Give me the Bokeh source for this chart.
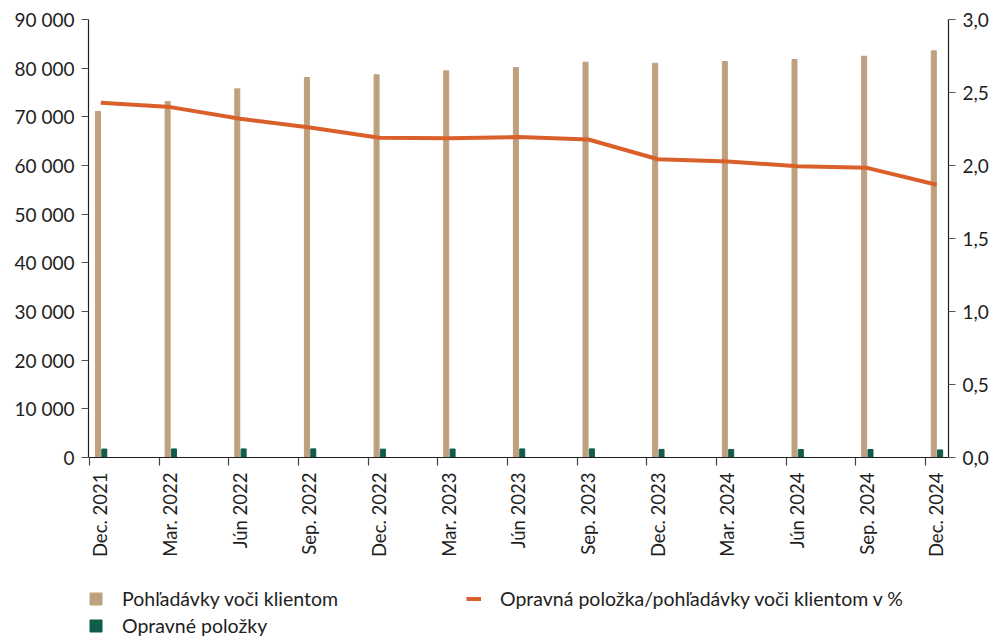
import math
from bokeh.plotting import figure
from bokeh.models import (ColumnDataSource, Range1d, LinearAxis, FixedTicker,
                          CustomJSTickFormatter, Legend, LegendItem)
from bokeh.transform import dodge
from bokeh.embed import file_html
from bokeh.resources import INLINE

# Quarter-end labels
quarters = ["Dec. 2021", "Mar. 2022", "Jún 2022", "Sep. 2022", "Dec. 2022",
            "Mar. 2023", "Jún 2023", "Sep. 2023", "Dec. 2023", "Mar. 2024",
            "Jún 2024", "Sep. 2024", "Dec. 2024"]

# Claims on clients (left axis)
pohladavky = [71100, 73150, 75750, 78080, 78640, 79450, 80130, 81230,
              81020, 81370, 81780, 82450, 83560]
# Loan-loss provisions (left axis)
opravne = [1730, 1760, 1760, 1770, 1720, 1740, 1760, 1770,
           1660, 1650, 1630, 1640, 1560]
# Provisions / claims ratio in % (right axis)
pomer = [2.43, 2.40, 2.32, 2.26, 2.19, 2.187, 2.195, 2.178,
         2.043, 2.027, 1.995, 1.984, 1.868]

left_ticks = [0, 10000, 20000, 30000, 40000, 50000, 60000, 70000, 80000, 90000]
right_ticks = [0.0, 0.5, 1.0, 1.5, 2.0, 2.5, 3.0]

TAN = "#BFA07E"
GREEN = "#115C4A"
ORANGE = "#D9602A"
FONT = "Lato"
TXT = "#1E1E1E"

# The frame reaches the bottom of the canvas; the part below zero holds the
# rotated quarter labels and the legend.
FRAME_H = 618
ZERO_PX = 438          # pixels from zero to the top of the value axes
below = (FRAME_H - ZERO_PX) / ZERO_PX
y_max, pct_max = 90000, 3.0

src = ColumnDataSource(dict(i=list(range(len(quarters))), pohl=pohladavky,
                            opr=opravne, pct=pomer))

p = figure(output_backend="svg", toolbar_location=None,
           x_range=Range1d(-0.017, 12.33),
           y_range=Range1d(-below * y_max, y_max),
           frame_width=860, frame_height=FRAME_H,
           min_border_left=88, min_border_right=49, min_border_top=19,
           min_border_bottom=0, x_axis_location=None, y_axis_location=None)
p.outline_line_color = None
p.grid.visible = False
p.background_fill_color = "white"
p.border_fill_color = "white"
p.extra_y_ranges = {"pct": Range1d(-below * pct_max, pct_max)}

bw = 0.072
r_pohl = p.vbar(x=dodge("i", 0.119, range=p.x_range), top="pohl", width=bw,
                bottom=0, color=TAN, source=src)
r_opr = p.vbar(x=dodge("i", 0.21, range=p.x_range), top="opr", width=bw,
               bottom=0, color=GREEN, source=src)
r_pct = p.line(x=dodge("i", 0.16, range=p.x_range), y="pct", line_width=4,
               line_color=ORANGE, y_range_name="pct", source=src)

# Left axis
yl = LinearAxis(ticker=FixedTicker(ticks=left_ticks), bounds=(0, y_max),
                major_label_overrides={v: f"{v:,}".replace(",", " ") for v in left_ticks})
# Right axis
yr = LinearAxis(y_range_name="pct", ticker=FixedTicker(ticks=right_ticks),
                bounds=(0, pct_max),
                major_label_overrides={v: f"{v:.1f}".replace(".", ",") for v in right_ticks})
for ax in (yl, yr):
    ax.axis_line_color = TXT
    ax.axis_line_width = 1.2
    ax.major_tick_line_color = "#555555"
    ax.major_tick_out = 7
    ax.major_tick_in = 0
    ax.minor_tick_line_color = None
    ax.major_label_text_font = FONT
    ax.major_label_text_font_size = "19px"
    ax.major_label_text_color = TXT
    ax.major_label_standoff = 7
p.add_layout(yl, "left")
p.add_layout(yr, "right")

# Bottom axis at zero: tick marks at quarter boundaries (minor), labels at group centres
xa = LinearAxis(ticker=FixedTicker(ticks=[k + 0.155 for k in range(len(quarters))],
                                   minor_ticks=list(range(len(quarters)))),
                formatter=CustomJSTickFormatter(args=dict(labels=quarters),
                                                code="return labels[Math.round(tick - 0.155)] || '';"),
                fixed_location=0)
xa.axis_line_color = TXT
xa.axis_line_width = 1.2
xa.major_tick_line_color = None
xa.major_tick_out = 0
xa.major_tick_in = 0
xa.minor_tick_line_color = "#444444"
xa.minor_tick_line_width = 1.2
xa.minor_tick_out = 8
xa.minor_tick_in = 0
xa.major_label_orientation = math.pi / 2
xa.major_label_text_font = FONT
xa.major_label_text_font_size = "18.5px"
xa.major_label_text_color = TXT
xa.major_label_standoff = 7
p.add_layout(xa, "below")

# Legend: bars in the first column, ratio line in the second
legend = Legend(items=[LegendItem(label="Pohľadávky voči klientom", renderers=[r_pohl]),
                       LegendItem(label="Opravné položky", renderers=[r_opr]),
                       LegendItem(label="Opravná položka/pohľadávky voči klientom v %",
                                  renderers=[r_pct])],
                orientation="vertical", nrows=2,
                location=(0, 0), margin=0, padding=0,
                border_line_color=None, background_fill_alpha=0,
                glyph_width=15, glyph_height=15, label_standoff=19,
                label_width=340, label_height=14, spacing=4,
                label_text_font=FONT, label_text_font_size="19.5px",
                label_text_color=TXT)
p.add_layout(legend, "center")

open("out.html", "w").write(file_html(p, INLINE))
